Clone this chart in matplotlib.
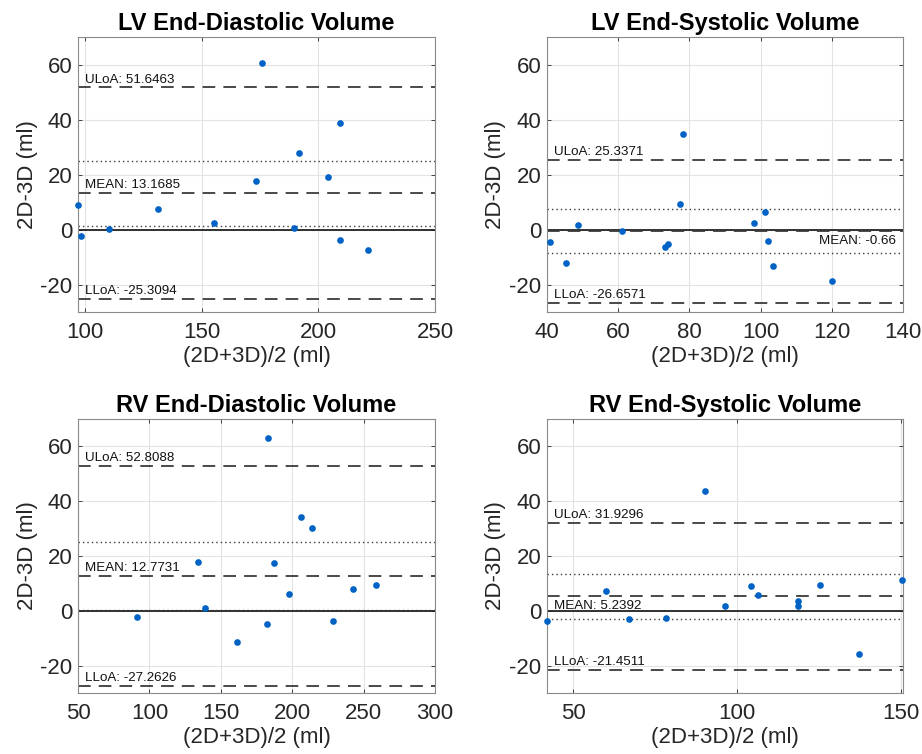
import numpy as np
import matplotlib
matplotlib.use("Agg")
import matplotlib.pyplot as plt
import matplotlib.transforms as mtransforms

plt.rcParams['font.family'] = ['Liberation Sans', 'DejaVu Sans']
plt.rcParams['axes.unicode_minus'] = False

titles = ["LV End-Diastolic Volume", "LV End-Systolic Volume",
          "RV End-Diastolic Volume", "RV End-Systolic Volume"]

# (2D+3D)/2 and 2D-3D
lvedv_avg = [97.1, 98.3, 110.4, 131.3, 155.4, 173.4, 175.9, 189.6, 191.6, 204.1, 209.4, 209.3, 221.1]
lvedv_diff = [9.0, -2.2, 0.1, 7.5, 2.4, 17.8, 60.5, 0.4, 27.9, 19.0, 38.7, -3.9, -7.5]

lvesv_avg = [41.0, 45.3, 48.8, 61.1, 73.3, 74.0, 77.3, 78.2, 98.2, 101.4, 102.0, 103.4, 120.0]
lvesv_diff = [-4.6, -12.0, 1.6, -0.4, -6.2, -5.1, 9.3, 34.7, 2.4, 6.4, -4.1, -13.1, -18.8]

rvedv_avg = [91.6, 134.3, 139.0, 161.2, 182.2, 183.2, 187.4, 198.1, 206.5, 213.8, 228.7, 242.8, 258.4]
rvedv_diff = [-2.4, 17.9, 1.1, -11.4, -4.8, 63.2, 17.6, 6.1, 34.4, 30.4, -3.6, 8.1, 9.5]

rvesv_avg = [42.1, 60.0, 66.9, 78.2, 90.1, 96.4, 104.3, 106.3, 118.4, 118.6, 125.2, 137.1, 150.3]
rvesv_diff = [-3.6, 7.3, -2.9, -2.7, 43.6, 1.7, 9.0, 5.7, 3.6, 1.7, 9.3, -15.6, 11.4]

# bias and limits of agreement
means = [13.1685, -0.66, 12.7731, 5.2392]
uloas = [51.6463, 25.3371, 52.8088, 31.9296]
lloas = [-25.3094, -26.6571, -27.2626, -21.4511]
# 95% CI of the mean (dotted)
ci_hi = [25.03, 7.36, 25.11, 13.47]
ci_lo = [1.31, -8.68, 0.43, -2.99]

xlims = [(97.1, 250), (40, 140), (50, 300), (42.0, 150.5)]
xticks = [[100, 150, 200, 250], [40, 60, 80, 100, 120, 140],
          [50, 100, 150, 200, 250, 300], [50, 100, 150]]

avgs = [lvedv_avg, lvesv_avg, rvedv_avg, rvesv_avg]
diffs = [lvedv_diff, lvesv_diff, rvedv_diff, rvesv_diff]

fig = plt.figure(figsize=(9.22, 7.54), dpi=100)
boxes = [[0.0846, 0.5862, 0.3872, 0.3647],
         [0.5930, 0.5862, 0.3864, 0.3647],
         [0.0846, 0.0809, 0.3872, 0.3634],
         [0.5930, 0.0809, 0.3864, 0.3634]]

# where the MEAN text goes: (x in axes frac, ha, above line?)
mean_pos = [(0.02, 'left', True), (0.98, 'right', False),
            (0.02, 'left', True), (0.02, 'left', False)]

dash = (0, (7, 4.5))
dot = (0, (1, 2.2))
dark = '#3a3a3a'
fs_txt = 9.6

for i in range(4):
    ax = fig.add_axes(boxes[i])
    ax.set_xlim(*xlims[i])
    ax.set_ylim(-30, 70)
    ax.set_xticks(xticks[i])
    ax.set_yticks([-20, 0, 20, 40, 60])
    ax.grid(True, color='#e3e3e3', linewidth=0.8)
    ax.set_axisbelow(True)

    ax.axhline(0, color='#222222', linewidth=1.3, zorder=2)
    ax.axhline(means[i], color=dark, linewidth=1.3, linestyle=dash, zorder=2)
    ax.axhline(uloas[i], color=dark, linewidth=1.3, linestyle=dash, zorder=2)
    ax.axhline(lloas[i], color=dark, linewidth=1.3, linestyle=dash, zorder=2)
    ax.axhline(ci_hi[i], color=dark, linewidth=1.0, linestyle=dot, zorder=2)
    ax.axhline(ci_lo[i], color=dark, linewidth=1.0, linestyle=dot, zorder=2)

    ax.plot(avgs[i], diffs[i], 'o', color='#0062C4', markersize=4.8,
            markeredgewidth=0, zorder=3, clip_on=False)

    tr = mtransforms.blended_transform_factory(ax.transAxes, ax.transData)
    off = 0.7
    ax.text(0.02, uloas[i] + off, "ULoA: " + str(uloas[i]), transform=tr,
            fontsize=fs_txt, va='bottom', ha='left', color='#111111')
    ax.text(0.02, lloas[i] + off, "LLoA: " + str(lloas[i]), transform=tr,
            fontsize=fs_txt, va='bottom', ha='left', color='#111111')
    mx, mha, above = mean_pos[i]
    if above:
        ax.text(mx, means[i] + off, "MEAN: " + str(means[i]), transform=tr,
                fontsize=fs_txt, va='bottom', ha=mha, color='#111111')
    else:
        ax.text(mx, means[i] - 1.3, "MEAN: " + str(means[i]), transform=tr,
                fontsize=fs_txt, va='top', ha=mha, color='#111111')

    ax.set_title(titles[i], fontsize=17, fontweight='bold', pad=5)
    ax.set_xlabel("(2D+3D)/2 (ml)", fontsize=16, color='#262626', labelpad=2)
    ax.set_ylabel("2D-3D (ml)", fontsize=16, color='#262626', labelpad=2)
    ax.tick_params(direction='in', length=3, labelsize=16, colors='#262626',
                   top=True, right=True, width=0.6)
    ax.tick_params(axis='x', pad=7)
    ax.tick_params(axis='y', pad=4)
    for s in ax.spines.values():
        s.set_color('#8a8a8a')
        s.set_linewidth(0.8)

fig.savefig("out.png", dpi=100)
